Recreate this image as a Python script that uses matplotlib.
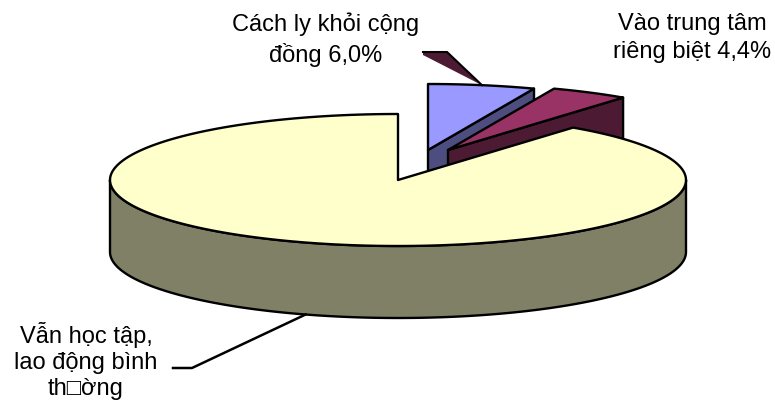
import numpy as np
import matplotlib.pyplot as plt
from matplotlib.patches import Polygon

plt.rcParams['font.family'] = ['Liberation Sans', 'DejaVu Sans']

labels = ["Cách ly khỏi cộng\nđồng 6,0%",
          "Vào trung tâm\nriêng biệt 4,4%",
          "Vẫn học tập,\nlao động bình\nth\u25a1ờng"]
shares = [6.0, 4.4, 89.6]
top_colors = ["#9999ff", "#993366", "#ffffcc"]
side_colors = ["#4d4d80", "#4d1a33", "#808066"]

# pie geometry in pixels
CX, CY = 398, 180
RX, RY = 288, 66
DEPTH = 72
shift = [(30, -30), (50, -30), (0, 0)]   # exploded slices
order = [0, 1, 2]                        # back to front


def rim(cx, cy, a0, a1, drop=0.0, n=200):
    t = np.radians(np.linspace(a0, a1, n))
    return np.column_stack([cx + RX * np.cos(t), cy - RY * np.sin(t) + drop])


def point(cx, cy, a, drop=0.0):
    t = np.radians(a)
    return np.array([cx + RX * np.cos(t), cy - RY * np.sin(t) + drop])


edges = 90 - 3.6 * np.concatenate([[0], np.cumsum(shares)])

fig = plt.figure(figsize=(7.75, 4.03), dpi=100)
ax = fig.add_axes([0, 0, 1, 1])
ax.set_xlim(0, 775)
ax.set_ylim(403, 0)
ax.axis('off')

kw = dict(edgecolor='black', linewidth=1.7, joinstyle='round')

for i in order:
    hi, lo = edges[i], edges[i + 1]
    cx, cy = CX + shift[i][0], CY + shift[i][1]
    apex = np.array([cx, cy])

    # radial faces turned toward the viewer
    for a, normal in ((lo, lo - 90), (hi, hi + 90)):
        if np.sin(np.radians(normal)) < -1e-6:
            p = point(cx, cy, a)
            face = [apex, p, p + [0, DEPTH], apex + [0, DEPTH]]
            ax.add_patch(Polygon(face, facecolor=side_colors[i], **kw))

    # outer wall on the front half
    for k in range(-2, 3):
        a0 = max(lo, -180 + 360 * k)
        a1 = min(hi, 360 * k)
        if a1 > a0:
            wall = np.vstack([rim(cx, cy, a0, a1), rim(cx, cy, a1, a0, DEPTH)])
            ax.add_patch(Polygon(wall, facecolor=side_colors[i], **kw))

    top = np.vstack([apex, rim(cx, cy, lo, hi)])
    ax.add_patch(Polygon(top, facecolor=top_colors[i], **kw))

# leader for the 6,0% slice
mid0 = (edges[0] + edges[1]) / 2
tip0 = point(CX + shift[0][0], CY + shift[0][1], mid0)
ax.add_patch(Polygon([(423, 52), (447, 52), tip0, (423, 55)],
                     facecolor='#4d1a33', edgecolor='none'))
ax.plot([423, 447, tip0[0]], [52, 52, tip0[1]], color='black', lw=1.5,
        solid_joinstyle='miter')

# leader for the large slice
mid2 = (edges[2] + edges[3]) / 2
tip2 = point(CX, CY, mid2, DEPTH)
ax.plot([173, 192, tip2[0]], [368, 368, tip2[1]], color='black', lw=1.8,
        solid_joinstyle='miter')

fs = 17
ax.text(326, 62, labels[0], ha='center', va='baseline', fontsize=fs,
        linespacing=1.35)
ax.text(692, 58, labels[1], ha='center', va='baseline', fontsize=fs,
        linespacing=1.35)
ax.text(86, 395, labels[2], ha='center', va='baseline', fontsize=fs,
        linespacing=1.25)

fig.savefig('out.png', dpi=100)
